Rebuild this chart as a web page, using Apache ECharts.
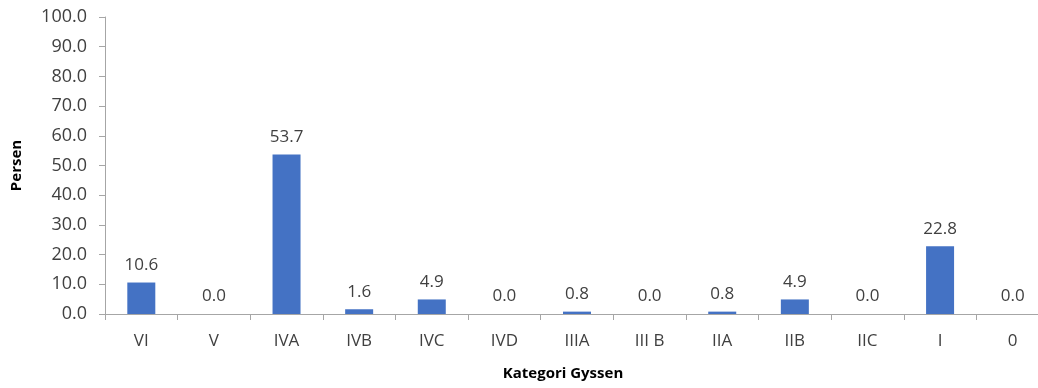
<!DOCTYPE html>
<html>
<head>
    <meta charset="utf-8" />
    <script src="https://cdn.jsdelivr.net/npm/echarts@6/dist/echarts.min.js"></script>
    <style>
        body { margin: 0; background: #fff; overflow: hidden; }
    </style>
</head>
<body>
    <div id="main" style="width:1050px;height:388px;"></div>
    <script>
        var categories = ['VI', 'V', 'IVA', 'IVB', 'IVC', 'IVD', 'IIIA', 'III B', 'IIA', 'IIB', 'IIC', 'I', '0'];
        var persen = [10.6, 0.0, 53.7, 1.6, 4.9, 0.0, 0.8, 0.0, 0.8, 4.9, 0.0, 22.8, 0.0];

        var font = 'Open Sans';
        var myChart = echarts.init(document.getElementById('main'));

        var option = {
            animation: false,
            textStyle: { fontFamily: font },
            grid: { left: 105, right: 1, top: 17, bottom: 74, outerBoundsMode: 'none' },
            xAxis: {
                type: 'category',
                data: categories,
                name: 'Kategori Gyssen',
                nameLocation: 'middle',
                nameGap: 52,
                nameTextStyle: { fontFamily: font, fontWeight: 'bold', fontSize: 15, color: '#000', padding: [0, 28, 0, 0] },
                axisLine: { lineStyle: { color: '#a6a6a6' } },
                axisTick: { show: true, length: 6, lineStyle: { color: '#a6a6a6' } },
                axisLabel: { fontSize: 17, color: '#404040', margin: 19 }
            },
            yAxis: {
                type: 'value',
                min: 0,
                max: 100,
                interval: 10,
                name: 'Persen',
                nameLocation: 'middle',
                nameGap: 81,
                nameTextStyle: { fontFamily: font, fontWeight: 'bold', fontSize: 15, color: '#000' },
                axisLine: { show: true, lineStyle: { color: '#a6a6a6' } },
                axisTick: { show: true, length: 6, lineStyle: { color: '#a6a6a6' } },
                splitLine: { show: false },
                axisLabel: {
                    fontSize: 18,
                    color: '#404040',
                    margin: 18,
                    formatter: function (v) { return v.toFixed(1); }
                }
            },
            series: [
                {
                    name: 'Persen',
                    type: 'bar',
                    data: persen,
                    barWidth: 28,
                    itemStyle: { color: '#4472C4' },
                    label: {
                        show: true,
                        position: 'top',
                        distance: 9,
                        fontSize: 17,
                        color: '#404040',
                        formatter: function (p) { return p.value.toFixed(1); }
                    }
                }
            ]
        };

        myChart.setOption(option);
    </script>
</body>
</html>
